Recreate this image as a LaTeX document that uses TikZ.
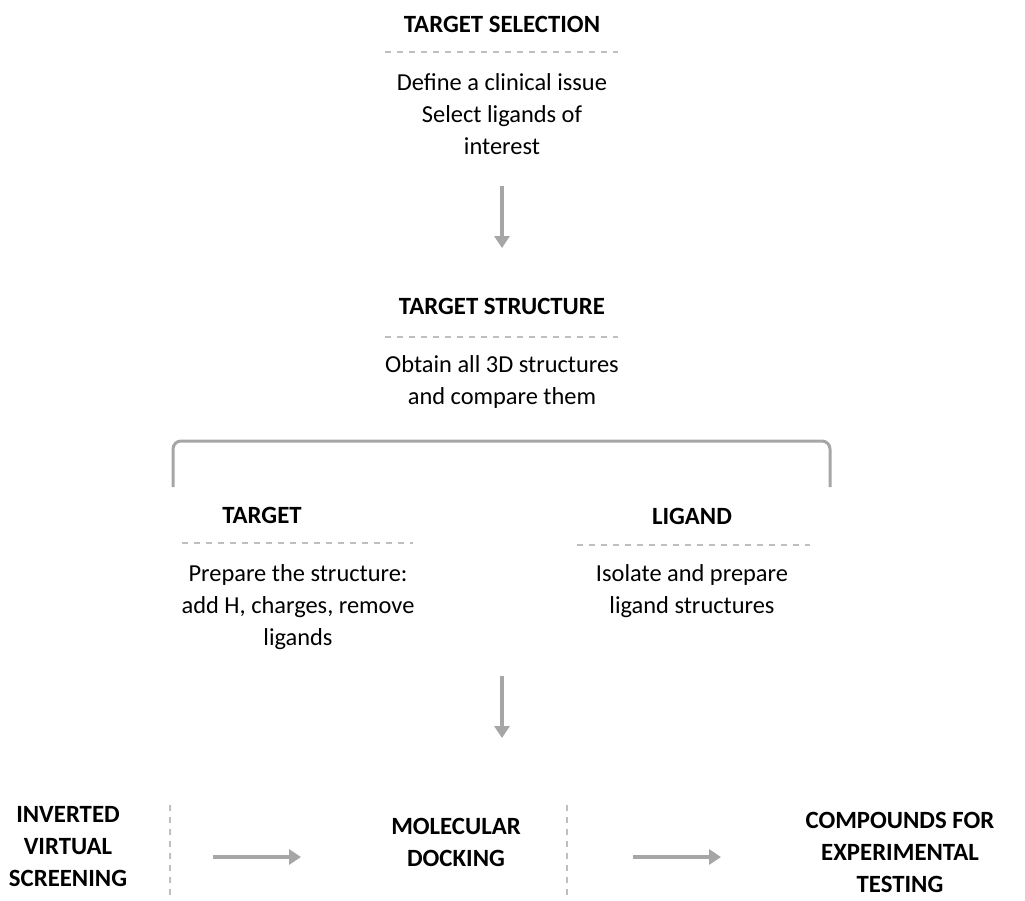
\documentclass[tikz,border=0pt]{standalone}
\usepackage{fontspec}
\setmainfont{Carlito}
\usetikzlibrary{arrows.meta}
\definecolor{arrowgray}{HTML}{A6A6A6}
\definecolor{dashgray}{HTML}{BFBFBF}
\tikzset{
  txt/.style={align=center, inner sep=0pt, font=\fontsize{12.2}{16}\selectfont},
  head/.style={txt, font=\fontsize{12.4}{16}\selectfont\bfseries},
  sep/.style={draw=dashgray, line width=0.6pt, dash pattern=on 3pt off 3pt},
  flow/.style={draw=arrowgray, line width=2pt, -{Triangle[width=7.5pt,length=6pt]}},
  bracket/.style={draw=arrowgray, line width=1.5pt, rounded corners=4pt}
}
\begin{document}
\begin{tikzpicture}[x=0.5pt,y=-0.5pt]
\useasboundingbox (0,0) rectangle (1025,901);
% Target selection
\node[head] (tsel) at (502,24) {TARGET SELECTION};
\coordinate (d1a) at (385,52); \coordinate (d1b) at (618,52);
\draw[sep] (d1a) -- (d1b);
\node[txt] (tseltxt) at (502,114) {Define a clinical issue\\Select ligands of\\interest};
\coordinate (a1s) at (502,186); \coordinate (a1e) at (502,248);
\draw[flow] (a1s) -- (a1e);
% Target structure
\node[head] (tstr) at (502,306) {TARGET STRUCTURE};
\coordinate (d2a) at (385,337); \coordinate (d2b) at (618,337);
\draw[sep] (d2a) -- (d2b);
\node[txt] (tstrtxt) at (502,382) {Obtain all 3D structures\\and compare them};
% bracket
\coordinate (bl) at (173,487); \coordinate (br) at (830,487);
\draw[bracket] (bl) -- (173,441) -- (830,441) -- (br);
% Target
\node[head] (tgt) at (262,515) {TARGET};
\coordinate (d3a) at (182,543); \coordinate (d3b) at (413,543);
\draw[sep] (d3a) -- (d3b);
\node[txt] (tgttxt) at (298,607) {Prepare the structure:\\add H, charges, remove\\ligands};
% Ligand
\node[head] (lig) at (692,516) {LIGAND};
\coordinate (d4a) at (577,545); \coordinate (d4b) at (810,545);
\draw[sep] (d4a) -- (d4b);
\node[txt] (ligtxt) at (692,591) {Isolate and prepare\\ligand structures};
\coordinate (a2s) at (502,676); \coordinate (a2e) at (502,738);
\draw[flow] (a2s) -- (a2e);
% Bottom row
\node[head] (ivs) at (68,847) {INVERTED\\VIRTUAL\\SCREENING};
\coordinate (v1a) at (170,805); \coordinate (v1b) at (170,901);
\draw[sep] (v1a) -- (v1b);
\coordinate (a3s) at (213,857); \coordinate (a3e) at (301,857);
\draw[flow] (a3s) -- (a3e);
\node[head] (md) at (456,842) {MOLECULAR\\DOCKING};
\coordinate (v2a) at (567,805); \coordinate (v2b) at (567,901);
\draw[sep] (v2a) -- (v2b);
\coordinate (a4s) at (633,857); \coordinate (a4e) at (721,857);
\draw[flow] (a4s) -- (a4e);
\node[head] (cet) at (900,852) {COMPOUNDS FOR\\EXPERIMENTAL\\TESTING};
\end{tikzpicture}
\end{document}
